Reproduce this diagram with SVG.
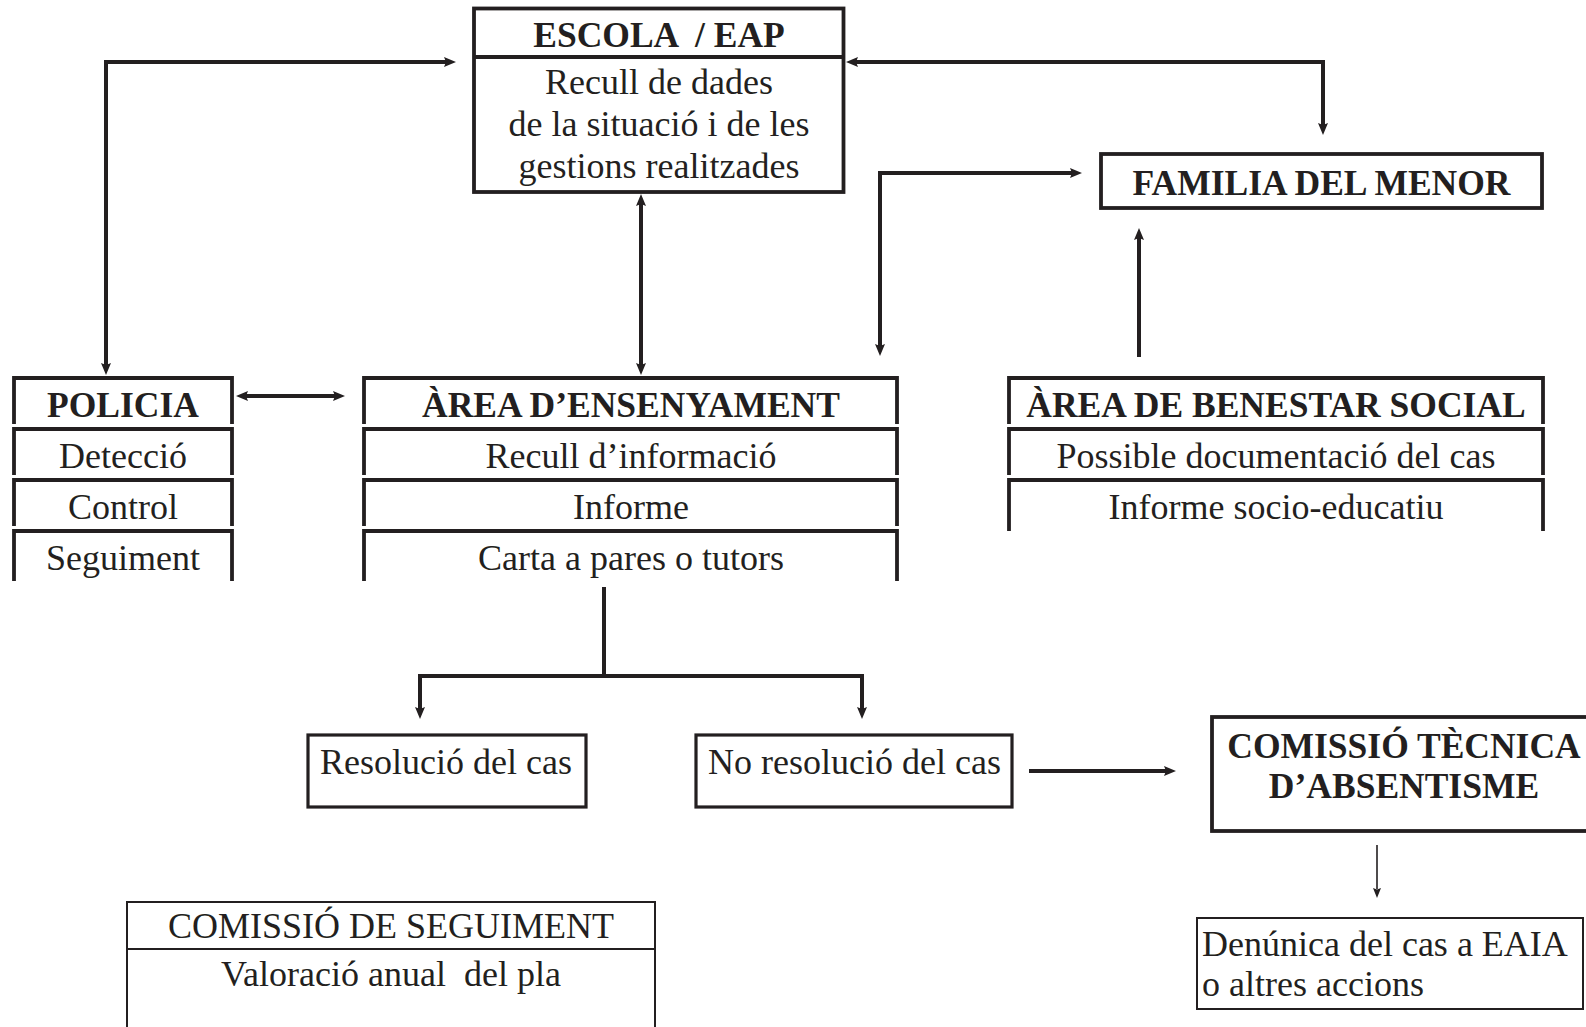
<svg xmlns="http://www.w3.org/2000/svg" width="1586" height="1027" viewBox="0 0 1586 1027">
<style>
  text { font-family: "Liberation Serif", "Times New Roman", serif; fill: #231f20; }
  .b { font-weight: bold; font-size: 35.5px; }
  .r { font-size: 36px; }
  .c { text-anchor: middle; }
  .box { fill: none; stroke: #231f20; stroke-width: 3.8; stroke-linejoin: miter; }
  .thin { fill: none; stroke: #231f20; stroke-width: 2; }
  .conn { fill: none; stroke: #231f20; stroke-width: 4; stroke-linejoin: miter; }
  .conn-thin { fill: none; stroke: #231f20; stroke-width: 1.6; }
</style>
<defs>
  <marker id="ah" viewBox="0 0 12 10" refX="2" refY="5" markerWidth="12" markerHeight="10" markerUnits="userSpaceOnUse" orient="auto-start-reverse">
    <path d="M0,0 L12,5 L0,10 L2,5 z" fill="#231f20"/>
  </marker>
  <marker id="ahs" viewBox="0 0 10 8" refX="1" refY="4" markerWidth="10" markerHeight="8" markerUnits="userSpaceOnUse" orient="auto">
    <path d="M0,0 L10,4 L0,8 L1.5,4 z" fill="#231f20"/>
  </marker>
</defs>
<rect width="1586" height="1027" fill="#ffffff"/>

<g id="connectors">
  <path class="conn" d="M446,62 L106,62 L106,365" marker-start="url(#ah)" marker-end="url(#ah)"/>
  <path class="conn" d="M856,62 L1323,62 L1323,125" marker-start="url(#ah)" marker-end="url(#ah)"/>
  <path class="conn" d="M880,346 L880,173 L1072,173" marker-start="url(#ah)" marker-end="url(#ah)"/>
  <path class="conn" d="M641,204 L641,365" marker-start="url(#ah)" marker-end="url(#ah)"/>
  <path class="conn" d="M1139,357 L1139,238" marker-end="url(#ah)"/>
  <path class="conn" d="M246,396 L335,396" marker-start="url(#ah)" marker-end="url(#ah)"/>
  <path class="conn" d="M604,587 L604,676"/>
  <path class="conn" d="M420,709 L420,676 L862,676 L862,709" marker-start="url(#ah)" marker-end="url(#ah)"/>
  <path class="conn" d="M1029,771 L1166,771" marker-end="url(#ah)"/>
  <path class="conn-thin" d="M1377,845 L1377,889" marker-end="url(#ahs)"/>
</g>

<g id="escola">
  <rect class="box" x="474" y="8.5" width="369.5" height="183.5"/>
  <line class="box" x1="474" y1="57" x2="843.5" y2="57"/>
  <text class="b c" x="659" y="47" xml:space="preserve">ESCOLA  / EAP</text>
  <text class="r c" x="659" y="94">Recull de dades</text>
  <text class="r c" x="659" y="136">de la situació i de les</text>
  <text class="r c" x="659" y="178">gestions realitzades</text>
</g>

<g id="familia">
  <rect class="box" x="1101" y="154" width="441" height="54"/>
  <text class="b c" x="1321.5" y="195">FAMILIA DEL MENOR</text>
</g>

<g id="policia">
  <path class="box" d="M14,424 L14,378 L232,378 L232,424"/>
  <path class="box" d="M14,475 L14,429 L232,429 L232,475"/>
  <path class="box" d="M14,526 L14,480 L232,480 L232,526"/>
  <path class="box" d="M14,581 L14,531 L232,531 L232,581"/>
  <text class="b c" x="123" y="417">POLICIA</text>
  <text class="r c" x="123" y="468">Detecció</text>
  <text class="r c" x="123" y="519">Control</text>
  <text class="r c" x="123" y="570">Seguiment</text>
</g>

<g id="ensenyament">
  <path class="box" d="M364,424 L364,378 L897,378 L897,424"/>
  <path class="box" d="M364,475 L364,429 L897,429 L897,475"/>
  <path class="box" d="M364,526 L364,480 L897,480 L897,526"/>
  <path class="box" d="M364,581 L364,531 L897,531 L897,581"/>
  <text class="b c" x="631" y="417">ÀREA D’ENSENYAMENT</text>
  <text class="r c" x="631" y="468">Recull d’informació</text>
  <text class="r c" x="631" y="519">Informe</text>
  <text class="r c" x="631" y="570">Carta a pares o tutors</text>
</g>

<g id="benestar">
  <path class="box" d="M1009,424 L1009,378 L1543,378 L1543,424"/>
  <path class="box" d="M1009,475 L1009,429 L1543,429 L1543,475"/>
  <path class="box" d="M1009,531 L1009,480 L1543,480 L1543,531"/>
  <text class="b c" x="1276" y="417">ÀREA DE BENESTAR SOCIAL</text>
  <text class="r c" x="1276" y="468">Possible documentació del cas</text>
  <text class="r c" x="1276" y="519">Informe socio-educatiu</text>
</g>

<g id="resolucio">
  <rect class="box" x="308" y="735" width="278" height="72" style="stroke-width:3.2"/>
  <text class="r" x="320" y="774">Resolució del cas</text>
</g>

<g id="no-resolucio">
  <rect class="box" x="696" y="735" width="316" height="72" style="stroke-width:3.2"/>
  <text class="r" x="708" y="774">No resolució del cas</text>
</g>

<g id="comissio-tecnica">
  <rect class="box" x="1212" y="717" width="390" height="114"/>
  <text class="b c" x="1404" y="758">COMISSIÓ TÈCNICA</text>
  <text class="b c" x="1404" y="798">D’ABSENTISME</text>
</g>

<g id="denuncia">
  <rect class="thin" x="1197" y="918" width="386" height="91"/>
  <text class="r" x="1202" y="956">Denúnica del cas a EAIA</text>
  <text class="r" x="1202" y="996">o altres accions</text>
</g>

<g id="comissio-seguiment">
  <rect class="thin" x="127" y="902" width="528" height="140"/>
  <line class="thin" x1="127" y1="949" x2="655" y2="949"/>
  <text class="r c" x="391" y="938">COMISSIÓ DE SEGUIMENT</text>
  <text class="r c" x="391" y="986" xml:space="preserve">Valoració anual  del pla</text>
</g>
</svg>
